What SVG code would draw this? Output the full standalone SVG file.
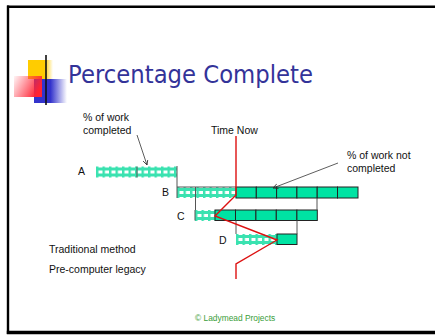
<svg xmlns="http://www.w3.org/2000/svg" width="435" height="336" viewBox="0 0 435 336">
<style>
  .t { font-family: "Liberation Sans", Arial, sans-serif; font-size: 10.5px; fill: #111; }
  .g { stroke: #555; stroke-width: 1; fill: none; }
  .cell { fill: #00E3A3; stroke: #222; stroke-width: 1; }
  .red { stroke: #d11; stroke-width: 1.4; fill: none; stroke-linejoin: miter; }
  .ar { stroke: #333; stroke-width: 0.8; fill: none; }
</style>
<defs>
  <pattern id="hatch" patternUnits="userSpaceOnUse" width="6.5" height="11">
    <rect x="0" y="1" width="6.5" height="3" fill="#3AE2B0"/>
    <rect x="0" y="7" width="6.5" height="3" fill="#3AE2B0"/>
    <rect x="0" y="0" width="2.4" height="11" fill="#3AE2B0"/>
  </pattern>
  <linearGradient id="ruleG" x1="0" y1="0" x2="1" y2="0">
    <stop offset="0" stop-color="#222"/>
    <stop offset="0.35" stop-color="#777"/>
    <stop offset="1" stop-color="#fff"/>
  </linearGradient>
  <linearGradient id="yelG" x1="0" y1="0" x2="1" y2="0">
    <stop offset="0" stop-color="#FFCC00"/>
    <stop offset="0.65" stop-color="#FFCC00"/>
    <stop offset="1" stop-color="#FFCC00" stop-opacity="0"/>
  </linearGradient>
  <linearGradient id="redG" x1="0" y1="0" x2="1" y2="0.4">
    <stop offset="0" stop-color="#FF3344" stop-opacity="0.05"/>
    <stop offset="1" stop-color="#FF2233"/>
  </linearGradient>
  <linearGradient id="bluG" x1="0" y1="0" x2="1" y2="0">
    <stop offset="0" stop-color="#3333CC"/>
    <stop offset="0.5" stop-color="#3333CC"/>
    <stop offset="1" stop-color="#3333CC" stop-opacity="0"/>
  </linearGradient>
  <marker id="arr" markerWidth="6" markerHeight="6" refX="5" refY="3" orient="auto" markerUnits="userSpaceOnUse">
    <path d="M0,0.5 L5,3 L0,5.5" fill="none" stroke="#333" stroke-width="0.8"/>
  </marker>
</defs>

<rect width="435" height="336" fill="#fff"/>

<!-- slide frame -->
<g id="frame" stroke="#000" fill="none">
  <line x1="7" y1="6.8" x2="435" y2="6.8" stroke-width="2.4"/>
  <line x1="8" y1="5.6" x2="8" y2="334" stroke-width="2.4"/>
  <line x1="6.8" y1="332.5" x2="435" y2="332.5" stroke-width="3.6"/>
</g>

<!-- logo & title -->
<g id="logo">
  <rect x="28" y="60" width="25" height="19" fill="url(#yelG)"/>
  <rect x="34" y="79" width="33" height="24" fill="url(#bluG)"/>
  <rect x="14" y="76" width="28" height="21" fill="url(#redG)"/>
  <line x1="46" y1="55" x2="46" y2="105" stroke="#111" stroke-width="1.6"/>
</g>
<g id="title">
  <line x1="29" y1="92.3" x2="405" y2="92.3" stroke="url(#ruleG)" stroke-width="1.6"/>
  <text x="68" y="83" font-family="'DejaVu Sans', Tahoma, sans-serif" font-size="25.5" fill="#333399" textLength="245" lengthAdjust="spacingAndGlyphs">Percentage Complete</text>
</g>

<!-- task bars -->
<g id="taskA">
  <text class="t" x="78" y="175">A</text>
  <g transform="translate(96,166.5)"><rect width="81" height="11" fill="url(#hatch)"/></g>
  <line class="g" x1="137" y1="166.5" x2="137" y2="177.5"/>
</g>
<g id="taskB">
  <text class="t" x="162" y="195.5">B</text>
  <g transform="translate(177,187)"><rect width="59" height="11" fill="url(#hatch)"/></g>
  <line class="g" x1="177" y1="187" x2="236" y2="187"/>
  <line class="g" x1="195.5" y1="187" x2="195.5" y2="198"/>
  <rect class="cell" x="236" y="187" width="20.3" height="11"/>
  <rect class="cell" x="256.3" y="187" width="20.3" height="11"/>
  <rect class="cell" x="276.6" y="187" width="20.3" height="11"/>
  <rect class="cell" x="296.9" y="187" width="20.3" height="11"/>
  <rect class="cell" x="317.2" y="187" width="20.3" height="11"/>
  <rect class="cell" x="337.5" y="187" width="20.5" height="11"/>
</g>
<g id="taskC">
  <text class="t" x="177" y="220">C</text>
  <g transform="translate(195,210)"><rect width="20" height="11" fill="url(#hatch)"/></g>
  <rect class="cell" x="215" y="210" width="20.5" height="10.5"/>
  <rect class="cell" x="235.5" y="210" width="20.4" height="10.5"/>
  <rect class="cell" x="255.9" y="210" width="20.4" height="10.5"/>
  <rect class="cell" x="276.3" y="210" width="20.6" height="10.5"/>
  <rect class="cell" x="296.9" y="210" width="20.4" height="10.5"/>
</g>
<g id="taskD">
  <text class="t" x="219" y="243.5">D</text>
  <g transform="translate(236,234)"><rect width="41" height="11" fill="url(#hatch)"/></g>
  <rect class="cell" x="277" y="234" width="20" height="10.5"/>
</g>

<!-- labels -->
<g id="labels">
  <text class="t" x="83" y="121">% of work</text>
  <text class="t" x="83" y="133.5">completed</text>
  <text class="t" x="211" y="134">Time Now</text>
  <text class="t" x="347" y="159">% of work not</text>
  <text class="t" x="347" y="172">completed</text>
  <text class="t" x="49" y="253">Traditional method</text>
  <text class="t" x="49" y="273">Pre-computer legacy</text>
  <text x="195" y="321" font-family="'Liberation Sans', Arial, sans-serif" font-size="8.4" fill="#3A9E3A">© Ladymead Projects</text>
</g>

<!-- connectors -->
<g id="connectors">
  <line class="g" x1="177" y1="166" x2="177" y2="198"/>
  <line class="g" x1="195.5" y1="198" x2="195.5" y2="210"/>
  <line class="g" x1="195" y1="210" x2="195" y2="220.5"/>
  <line class="g" x1="317" y1="198" x2="317" y2="210"/>
  <line class="g" x1="236" y1="220.5" x2="236" y2="234"/>
  <line class="g" x1="297" y1="220.5" x2="297" y2="234"/>
  <line class="ar" x1="137" y1="135" x2="147" y2="165" marker-end="url(#arr)"/>
  <line class="ar" x1="338" y1="163" x2="273" y2="188" marker-end="url(#arr)"/>
  <polyline class="red" points="236,136 236,195 215,216 277,240 236,264 236,279"/>
</g>
</svg>
